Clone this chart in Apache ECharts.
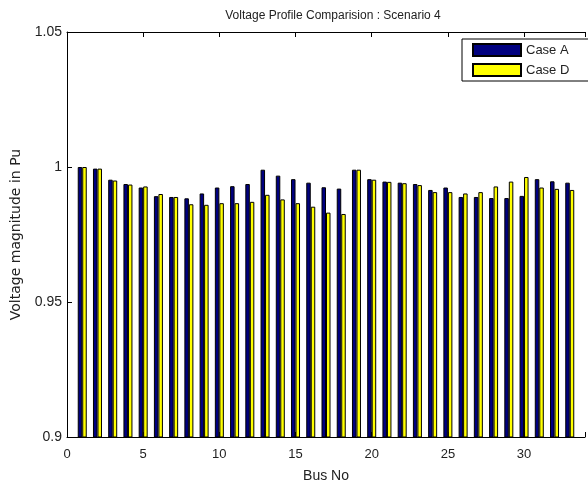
<!DOCTYPE html>
<html>
<head>
<meta charset="utf-8">
<script src="https://cdn.jsdelivr.net/npm/echarts@6/dist/echarts.min.js"></script>
<style>html,body{margin:0;padding:0;background:#fff;}#c{width:588px;height:488px;}</style>
</head>
<body>
<div id="c"></div>
<script>
var buses = [1,2,3,4,5,6,7,8,9,10,11,12,13,14,15,16,17,18,19,20,21,22,23,24,25,26,27,28,29,30,31,32,33];
var caseA = [1.000,0.9994,0.9953,0.9937,0.9924,0.9892,0.9889,0.9884,0.9902,0.9924,0.9929,0.9937,0.9990,0.9968,0.9955,0.9942,0.9925,0.9920,0.9990,0.9955,0.9946,0.9942,0.9937,0.9915,0.9924,0.9889,0.9889,0.9885,0.9885,0.9893,0.9955,0.9947,0.9942];
var caseD = [1.000,0.9994,0.9950,0.9935,0.9928,0.9900,0.9889,0.9862,0.9860,0.9866,0.9866,0.9871,0.9897,0.9880,0.9866,0.9853,0.9831,0.9826,0.9990,0.9953,0.9945,0.9940,0.9933,0.9907,0.9907,0.9902,0.9907,0.9928,0.9946,0.9963,0.9924,0.9919,0.9915];
var xTicks = [0,5,10,15,20,25,30];
var yTicks = [0.9,0.95,1,1.05];

var font = 'Liberation Sans, Arial, sans-serif';
var chart = echarts.init(document.getElementById('c'));
function pairs(v){ return buses.map(function(b,i){ return [b, v[i]]; }); }
chart.setOption({
  animation: false,
  title: {
    text: 'Voltage Profile Comparision : Scenario 4',
    left: 328, top: 5, textAlign: 'center',
    textStyle: {fontFamily: font, fontSize: 12, fontWeight: 'normal', color: '#222'}
  },
  legend: {
    left: 462, top: 39,
    orient: 'vertical',
    icon: 'rect',
    itemWidth: 48, itemHeight: 12, itemGap: 6,
    padding: [4, 20, 4, 10],
    borderColor: '#000', borderWidth: 1,
    backgroundColor: '#fff',
    textStyle: {fontFamily: font, fontSize: 13, color: '#222'},
    data: ['Case A', 'Case D']
  },
  grid: {left: 67, top: 32, right: -2, bottom: 46},
  xAxis: [{
    type: 'value', min: 0, max: 34, interval: 5,
    name: 'Bus No', nameLocation: 'middle', nameGap: 32,
    nameTextStyle: {fontFamily: font, fontSize: 14, color: '#222'},
    axisLine: {show: true, lineStyle: {color: '#000'}},
    axisTick: {show: true, inside: true, length: 5, lineStyle: {color: '#000'}},
    axisLabel: {fontFamily: font, fontSize: 13, color: '#222', margin: 11,
      formatter: function(v){ return xTicks.indexOf(v) >= 0 ? String(v) : ''; }},
    splitLine: {show: false}
  }, {
    type: 'value', min: 0, max: 34, interval: 5, position: 'top',
    axisLine: {show: true, lineStyle: {color: '#000'}},
    axisTick: {show: true, inside: true, length: 5, lineStyle: {color: '#000'}},
    axisLabel: {show: false}, splitLine: {show: false}
  }],
  yAxis: {
    type: 'value', min: 0.9, max: 1.05, interval: 0.05,
    name: 'Voltage magnitude in Pu', nameLocation: 'middle', nameGap: 43,
    nameTextStyle: {fontFamily: 'DejaVu Sans, sans-serif', fontSize: 14, color: '#222'},
    axisLine: {show: true, lineStyle: {color: '#000'}},
    axisTick: {show: true, inside: true, length: 5, lineStyle: {color: '#000'}},
    axisLabel: {fontFamily: font, fontSize: 14, color: '#222', margin: 5,
      formatter: function(v){
        var r = Math.round(v*100)/100;
        for (var i=0;i<yTicks.length;i++){ if (Math.abs(yTicks[i]-r)<1e-9) return String(yTicks[i]); }
        return '';
      }},
    splitLine: {show: false}
  },
  series: [{
    name: 'Case A', type: 'bar', data: pairs(caseA),
    barWidth: 4.5, barGap: '0%',
    itemStyle: {color: '#00007F', borderColor: '#000', borderWidth: 1}
  }, {
    name: 'Case D', type: 'bar', data: pairs(caseD),
    barWidth: 4.5, barGap: '0%',
    itemStyle: {color: '#FFFF00', borderColor: '#000', borderWidth: 1}
  }]
});
</script>
</body>
</html>
